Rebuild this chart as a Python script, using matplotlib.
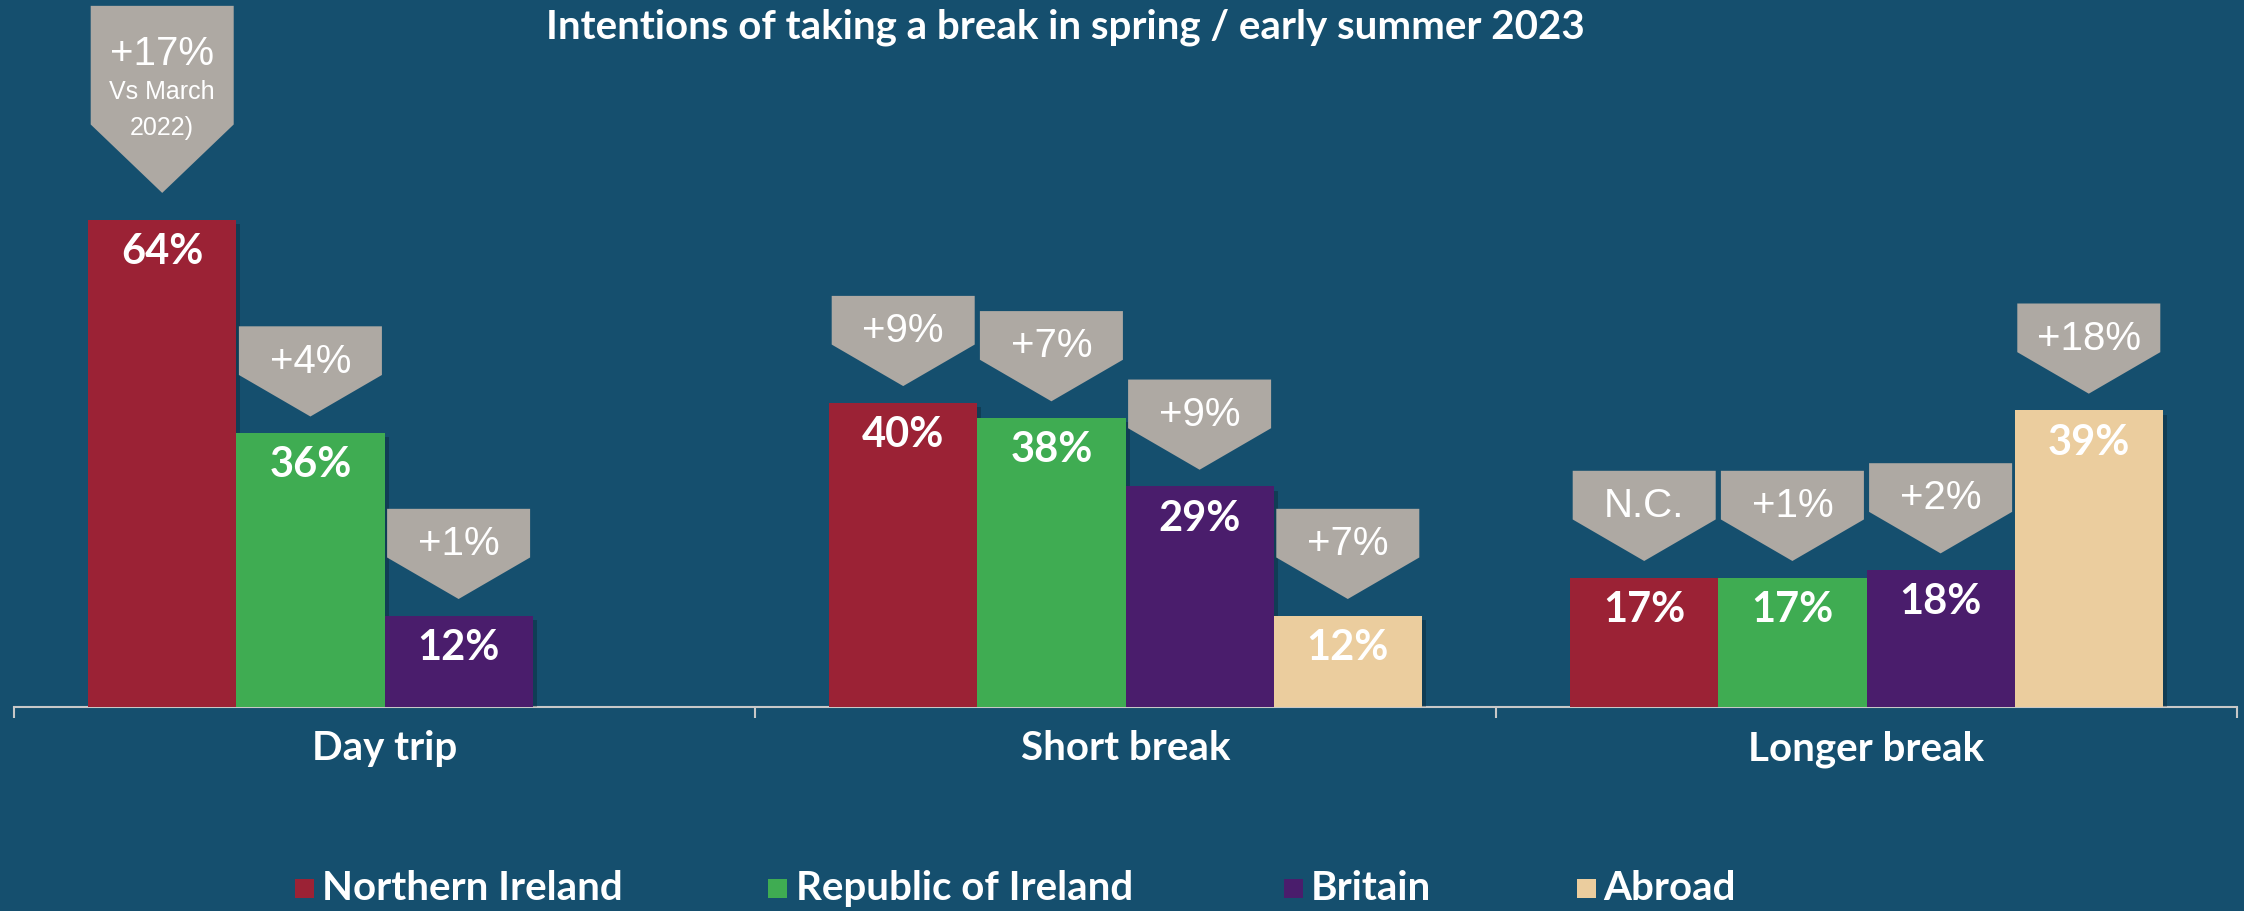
import numpy as np
import matplotlib
matplotlib.use("Agg")
import matplotlib.pyplot as plt
from matplotlib.patches import Polygon, Rectangle
import matplotlib.patheffects as pe

# ---------------- data ----------------
categories = ["Day trip", "Short break", "Longer break"]
series = ["Northern Ireland", "Republic of Ireland", "Britain", "Abroad"]
ni_values = [64, 40, 17]
roi_values = [36, 38, 17]
britain_values = [12, 29, 18]
abroad_values = [np.nan, 12, 39]
ni_changes = ["+17%\nVs March\n2022)", "+9%", "N.C."]
roi_changes = ["+4%", "+7%", "+1%"]
britain_changes = ["+1%", "+9%", "+2%"]
abroad_changes = [None, "+7%", "+18%"]
title = "Intentions of taking a break in spring / early summer 2023"

values = [ni_values, roi_values, britain_values, abroad_values]
changes = [ni_changes, roi_changes, britain_changes, abroad_changes]

# ---------------- style ----------------
BG = "#154F6E"
colors = ["#9B2235", "#3FAC52", "#4A1D6C", "#EBCD9E"]
CALLOUT = "#AEA9A3"
AXIS = "#C8C8C8"
BOLD = ["Lato", "DejaVu Sans"]
LIGHT = ["Liberation Sans Narrow", "Liberation Sans", "DejaVu Sans"]

W, H = 2244, 912
fig = plt.figure(figsize=(W / 100, H / 100), dpi=100, facecolor=BG)
ax = fig.add_axes([14 / W, 1 - 708 / H, (2237 - 14) / W, 708 / H])
ax.set_facecolor(BG)
ax.set_xlim(-0.5, len(categories) - 0.5)
ax.set_ylim(0, 93.1)

bar_w = 0.2
offsets = [-0.3, -0.1, 0.1, 0.3]
x = np.arange(len(categories))

shadow = [pe.SimplePatchShadow(offset=(3, -3), shadow_rgbFace="black", alpha=0.22), pe.Normal()]

for s, (vals, col) in enumerate(zip(values, colors)):
    bars = ax.bar(x + offsets[s], vals, width=bar_w, color=col, zorder=3)
    for b in bars:
        b.set_path_effects(shadow)

# value labels and callouts
cw = 0.193
gap, tri_h, rect_h = 2.2, 5.46, 6.4
for s in range(len(series)):
    for c in range(len(categories)):
        v = values[s][c]
        if v is None or np.isnan(v):
            continue
        cx = x[c] + offsets[s]
        ax.text(cx, v - 4.1, f"{v:.0f}%", ha="center", va="center", color="white",
                fontsize=30, fontweight="bold", family=BOLD, zorder=5)
        lab = changes[s][c]
        if lab is None:
            continue
        lines = lab.split("\n")
        if len(lines) > 1:
            g, th, rh = 3.6, 9.0, 15.6
        else:
            g, th, rh = gap, tri_h, rect_h
        tip = v + g
        rb = tip + th
        top = rb + rh
        poly = Polygon([(cx - cw / 2, top), (cx + cw / 2, top), (cx + cw / 2, rb),
                        (cx, tip), (cx - cw / 2, rb)], closed=True,
                       facecolor=CALLOUT, edgecolor="none", zorder=4)
        ax.add_patch(poly)
        if len(lines) == 1:
            ax.text(cx, rb + 1.9, lines[0], ha="center", va="center", color="white",
                    fontsize=29, family=LIGHT, zorder=5)
        else:
            ax.text(cx, rb + 9.4, lines[0], ha="center", va="center", color="white",
                    fontsize=29, family=LIGHT, zorder=5)
            for k, ln in enumerate(lines[1:]):
                ax.text(cx, rb + 4.4 - 4.7 * k, ln, ha="center", va="center", color="white",
                        fontsize=18, family=LIGHT, zorder=5)

# axes styling
for sp in ["top", "left", "right"]:
    ax.spines[sp].set_visible(False)
ax.spines["bottom"].set_color(AXIS)
ax.spines["bottom"].set_linewidth(1.5)
ax.set_yticks([])
ax.set_xticks(x)
ax.set_xticklabels(categories, fontsize=29, fontweight="bold", family=BOLD, color="white")
ax.tick_params(axis="x", which="major", length=0, pad=16)
ax.set_xticks(np.arange(len(categories) + 1) - 0.5, minor=True)
ax.tick_params(axis="x", which="minor", length=8, width=1.5, color=AXIS, direction="out")

# title
fig.text(1065 / W, 1 - 27 / H, title, ha="center", va="center", color="white",
         fontsize=29, fontweight="bold", family=BOLD)

# legend
leg_sq_x = [295, 768, 1284, 1577]
leg_tx_x = [322, 796, 1311, 1603]
leg_y = 889
sq = 19
for s in range(len(series)):
    fig.patches.append(Rectangle((leg_sq_x[s] / W, (H - leg_y - sq / 2) / H), sq / W, sq / H,
                                 transform=fig.transFigure, facecolor=colors[s], edgecolor="none"))
    fig.text(leg_tx_x[s] / W, 1 - leg_y / H, series[s], ha="left", va="center", color="white",
             fontsize=29, fontweight="bold", family=BOLD)

fig.savefig("out.png", dpi=100, facecolor=BG)
